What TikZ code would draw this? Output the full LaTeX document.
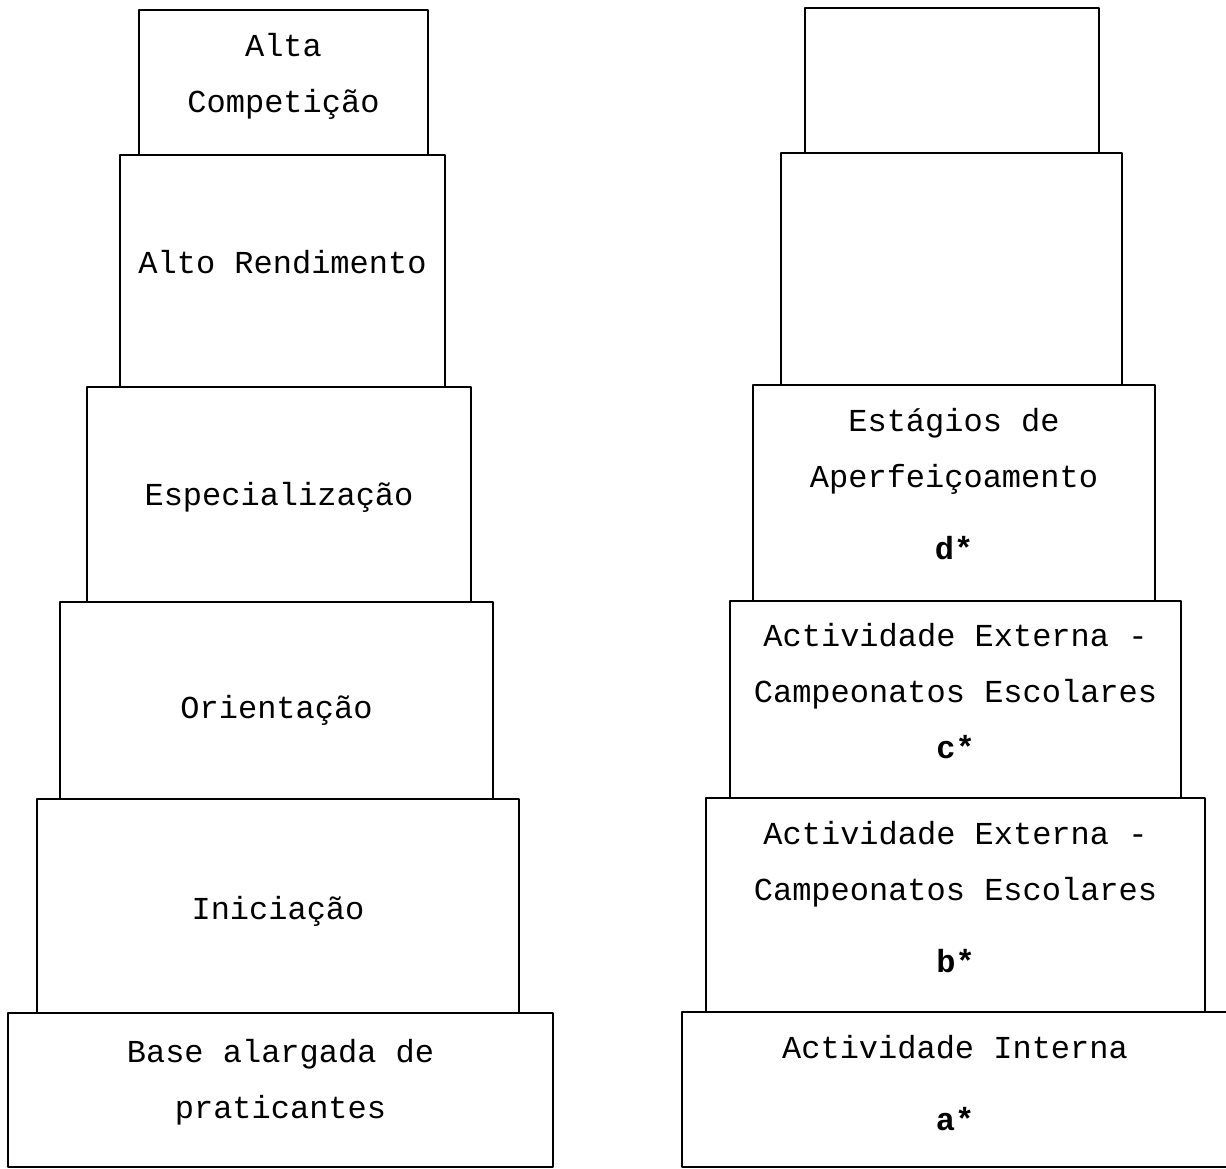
\documentclass[tikz,border=0pt]{standalone}
\usepackage{fontspec}
\setmonofont{Liberation Mono}

\tikzset{
  stage/.style={draw, line width=0.9pt, rectangle, inner sep=0pt},
  stagetext/.style={inner sep=0pt, align=center,
    font=\ttfamily\fontsize{16}{28}\selectfont}
}

\begin{document}
\begin{tikzpicture}[x=0.5pt, y=-0.5pt, line join=round, line cap=round]

    % page frame
    \useasboundingbox (0,0) rectangle (1226,1168);
    \clip (0,0) rectangle (1226,1168);

    % Left stack (top to bottom)
    \foreach \name/\cx/\cy/\w/\h/\dy/\txt in {
        alta/283.5/82.5/144.5/72.5/6/{Alta\\Competição},
        rend/282.5/271/162.5/116/9/{Alto Rendimento},
        espec/279/494.5/192/107.5/-3/{Especialização},
        orient/276.5/700.5/216.5/98.5/-10/{Orientação},
        inic/278/906/241/107/-5/{Iniciação},
        base/280.5/1090/272.5/77/8/{Base alargada de\\praticantes}} {
        \node[stage, minimum width=\w pt, minimum height=\h pt] (\name) at (\cx,\cy) {};
        \node[stagetext] (\name-txt) at (\cx,\cy-\dy) {\txt};
    }

    % Right stack (top to bottom)
    \foreach \name/\cx/\cy/\w/\h/\dy/\txt in {
        topR/952/80.5/147/72.5/0/{},
        secR/951.5/269/170.5/116/0/{},
        estag/954/493/201/108/9/{Estágios de\\Aperfeiçoamento\\[8pt]\textbf{d*}},
        extC/955.5/699.5/225.5/98.5/8/{Actividade Externa -\\Campeonatos Escolares\\\textbf{c*}},
        extB/955.5/905/249.5/107/8/{Actividade Externa -\\Campeonatos Escolares\\[8pt]\textbf{b*}},
        intA/955/1089.5/273/77.5/6/{Actividade Interna\\[8pt]\textbf{a*}}} {
        \node[stage, minimum width=\w pt, minimum height=\h pt] (\name) at (\cx,\cy) {};
        \node[stagetext] (\name-txt) at (\cx,\cy-\dy) {\txt};
    }
\end{tikzpicture}
\end{document}
